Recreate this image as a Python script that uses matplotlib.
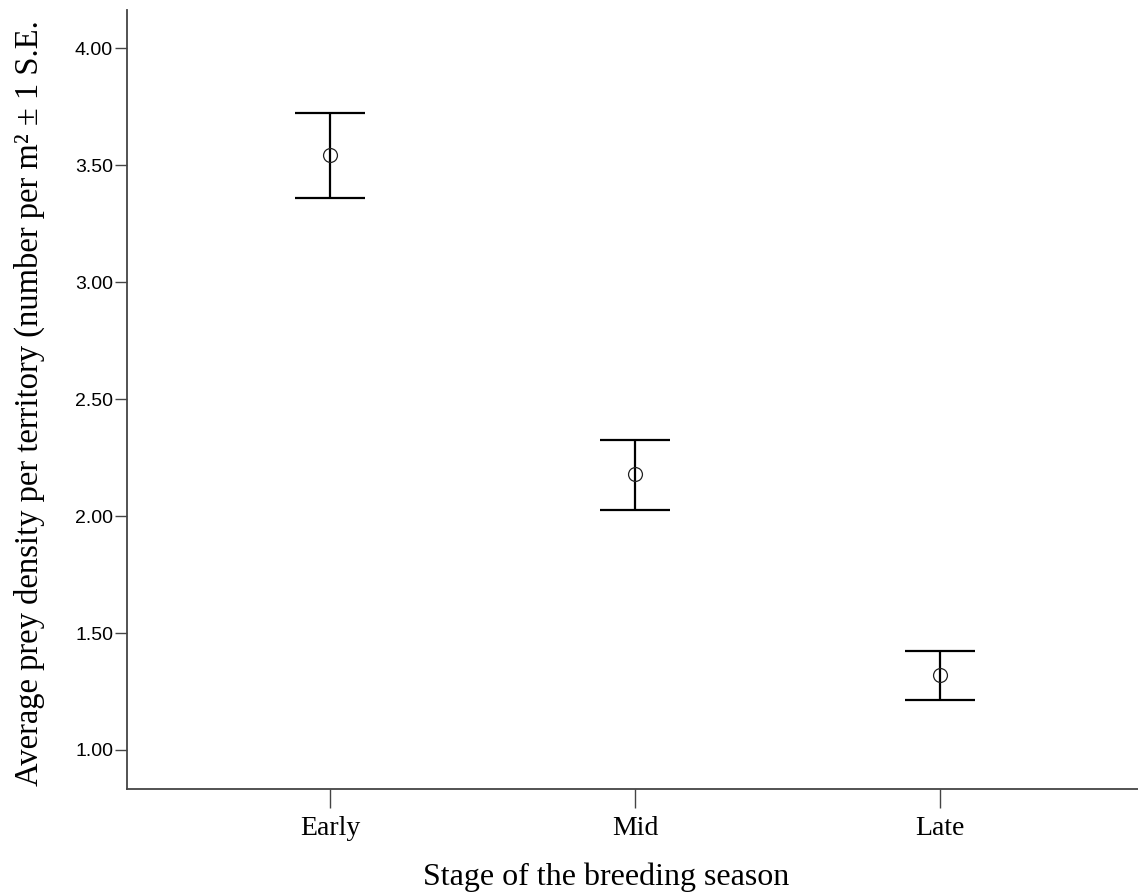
import numpy as np
import matplotlib
matplotlib.use("Agg")
import matplotlib.pyplot as plt

# data
stages = ["Early", "Mid", "Late"]
means = [3.544, 2.178, 1.321]
upper = [3.722, 2.327, 1.425]
lower = [3.361, 2.024, 1.215]
yticks = [1.00, 1.50, 2.00, 2.50, 3.00, 3.50, 4.00]

serif = ["Liberation Serif", "DejaVu Serif"]
sans = ["Liberation Sans", "DejaVu Sans"]

fig = plt.figure(figsize=(11.38, 8.93), dpi=100)
ax = fig.add_axes([127 / 1138, 104 / 893, 1 - 127 / 1138, (789 - 10) / 893])

x = np.arange(len(stages))
m = np.array(means)
err = np.vstack([m - np.array(lower), np.array(upper) - m])
ax.errorbar(x, m, yerr=err, fmt="none", ecolor="black", elinewidth=1.6,
            capsize=25.5, capthick=1.6, zorder=3)
# open circles on the error bars
ax.plot(x, m, "o", mfc="none", mec="#222222", ms=10, mew=0.9, zorder=4)

ax.set_xlim(-0.668, 2.651)
ax.set_ylim(0.833, 4.164)
ax.set_xticks(x)
ax.set_xticklabels(stages, fontfamily=serif, fontsize=20)
ax.set_yticks(yticks)
ax.set_yticklabels(["%.2f" % v for v in yticks], fontfamily=sans, fontsize=14)

for s in ["top", "right"]:
    ax.spines[s].set_visible(False)
for s in ["left", "bottom"]:
    ax.spines[s].set_color("#444444")
    ax.spines[s].set_linewidth(1.3)
ax.tick_params(axis="y", length=9, width=1.0, color="#444444", pad=1)
ax.tick_params(axis="x", length=13.5, width=1.0, color="#444444", pad=6)

ax.set_xlabel("Stage of the breeding season", fontfamily=serif, fontsize=23, labelpad=14)
ax.xaxis.set_label_coords((606 - 127) / 1011, -0.094)
ax.set_ylabel("Average prey density per territory (number per m\u00b2 \u00b1 1 S.E.",
              fontfamily=serif, fontsize=23.5, labelpad=10)
ax.yaxis.set_label_coords(-(127 - 45) / 1011, 0.495)

fig.savefig("out.png", dpi=100)
